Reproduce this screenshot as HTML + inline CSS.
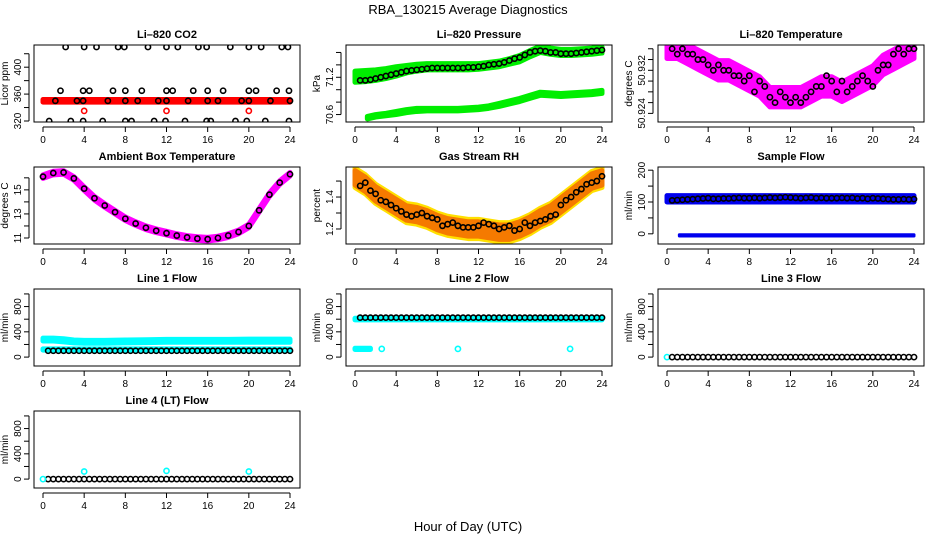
<!DOCTYPE html>
<html><head><meta charset="utf-8">
<style>
body{margin:0;background:#fff;}
svg text{font-family:"Liberation Sans",sans-serif;}
</style></head>
<body>
<svg id="chart" width="936" height="540" viewBox="0 0 936 540" xmlns="http://www.w3.org/2000/svg">
<rect width="936" height="540" fill="#fff"/>
<text x="468" y="14" text-anchor="middle" font-size="13">RBA_130215  Average Diagnostics</text>
<text x="468" y="531" text-anchor="middle" font-size="13">Hour of Day (UTC)</text>
</svg>
<script>
// ---------- data ----------
const xTicks = [0,4,8,12,16,20,24];
const HH = [0.5,1,1.5,2,2.5,3,3.5,4,4.5,5,5.5,6,6.5,7,7.5,8,8.5,9,9.5,10,10.5,11,11.5,12,12.5,13,13.5,14,14.5,15,15.5,16,16.5,17,17.5,18,18.5,19,19.5,20,20.5,21,21.5,22,22.5,23,23.5,24];
const HR = [0,1,2,3,4,5,6,7,8,9,10,11,12,13,14,15,16,17,18,19,20,21,22,23,24];

// CO2
const co2X430 = [2.2,4,5.2,7.3,7.9,10.2,12,13.1,15.1,15.9,18.2,20,21.2,23.2,23.8];
const co2X365 = [1.7,3.9,4.5,6.8,8,9.6,12,12.6,14.6,16,17.5,20,20.7,22.7,23.9];
const co2X350 = [1.2,3.3,3.9,6.3,8,9.2,11.2,12,14.1,16,17,19.3,20,22.1,24];
const co2X320 = [0.6,2.7,3.9,5.8,8,8.6,10.8,11.9,13.8,15.9,16.3,18.7,19.8,21.6,23.9];
const co2RedX = [4,12,20];
const co2RedY = [335,335,335];
const co2BandX = [0,24];
const co2BandLo = [348,348];
const co2BandHi = [352,352];

// Pressure
const presUpLo = [71.12,71.13,71.15,71.18,71.22,71.27,71.3,71.32,71.32,71.32,71.32,71.32,71.33,71.35,71.37,71.41,71.45,71.53,71.6,71.57,71.55,71.55,71.56,71.57,71.59];
const presUpHi = [71.3,71.31,71.32,71.34,71.37,71.39,71.41,71.42,71.42,71.42,71.42,71.42,71.42,71.44,71.46,71.5,71.55,71.63,71.7,71.67,71.65,71.65,71.66,71.67,71.69];
const presLowX = [1.2,2,3,4,5,6,7,8,9,10,11,12,13,14,15,16,17,18,19,20,21,22,23,24];
const presLowLo = [70.53,70.56,70.58,70.6,70.63,70.65,70.66,70.66,70.66,70.66,70.67,70.68,70.7,70.73,70.77,70.81,70.86,70.91,70.9,70.89,70.9,70.91,70.92,70.94];
const presLowHi = [70.57,70.6,70.62,70.65,70.68,70.7,70.7,70.7,70.7,70.7,70.71,70.72,70.74,70.78,70.82,70.86,70.91,70.96,70.95,70.94,70.95,70.96,70.97,70.99];
const presBlack = [71.15,71.15,71.16,71.18,71.2,71.22,71.24,71.26,71.28,71.3,71.31,71.32,71.33,71.34,71.35,71.35,71.35,71.35,71.35,71.35,71.35,71.36,71.36,71.37,71.38,71.4,71.41,71.42,71.44,71.47,71.5,71.52,71.56,71.6,71.62,71.63,71.62,71.6,71.6,71.58,71.58,71.58,71.59,71.6,71.61,71.62,71.63,71.64];

// Li-820 Temperature
const tempLo = [50.9342,50.9342,50.9332,50.9322,50.9312,50.9302,50.9302,50.9292,50.9282,50.9272,50.9252,50.9252,50.9252,50.9252,50.9262,50.9272,50.9272,50.9262,50.9272,50.9282,50.9292,50.9312,50.9322,50.9332,50.9342];
const tempHi = [50.9378,50.9378,50.9368,50.9358,50.9348,50.9338,50.9338,50.9328,50.9318,50.9308,50.9288,50.9288,50.9288,50.9288,50.9298,50.9308,50.9308,50.9298,50.9308,50.9318,50.9328,50.9348,50.9358,50.9368,50.9378];
const tempBlack = [50.936,50.935,50.936,50.935,50.935,50.934,50.934,50.933,50.932,50.933,50.932,50.932,50.931,50.931,50.930,50.931,50.928,50.930,50.929,50.927,50.926,50.928,50.927,50.926,50.927,50.926,50.927,50.928,50.929,50.929,50.931,50.930,50.928,50.930,50.928,50.929,50.930,50.931,50.930,50.929,50.932,50.933,50.933,50.935,50.936,50.935,50.936,50.936];

// Ambient box temperature
const ambVal = [16.1,16.4,16.45,15.95,15.1,14.3,13.7,13.15,12.6,12.2,11.85,11.6,11.4,11.2,11.05,10.95,10.9,11.0,11.2,11.5,12.0,13.3,14.6,15.6,16.3];

// Gas Stream RH
const rhVal = [1.52,1.48,1.42,1.38,1.34,1.3,1.29,1.27,1.24,1.22,1.21,1.2,1.2,1.19,1.18,1.18,1.2,1.23,1.27,1.3,1.35,1.4,1.45,1.5,1.52];
const rhBlack = [1.47,1.49,1.44,1.42,1.38,1.37,1.35,1.33,1.31,1.29,1.28,1.29,1.3,1.28,1.27,1.26,1.22,1.23,1.24,1.22,1.21,1.21,1.21,1.22,1.24,1.23,1.22,1.2,1.21,1.22,1.19,1.2,1.24,1.22,1.24,1.25,1.26,1.28,1.29,1.35,1.38,1.4,1.43,1.45,1.48,1.49,1.5,1.53];

// Sample flow
const sfBandX = [0,24];
const sfBandLo = [100,100];
const sfBandHi = [120,120];
const sfLowX = [1.2,24];
const sfLowLo = [-7,-7];
const sfLowHi = [-3,-3];
const sfBlack = [105,106,107,108,109,110,111,112,110,110,111,111,112,113,112,112,113,112,113,114,113,114,115,114,113,112,113,114,112,113,112,112,112,113,112,113,111,112,110,112,111,110,109,108,108,109,108,109];

// Line flows
const l1BandX = [0,1,2,3,4,6,8,10,12,14,16,18,20,22,24];
const l1BandLo = [255,255,240,225,220,220,225,230,235,235,235,235,235,235,235];
const l1BandHi = [300,300,290,270,265,265,270,275,280,280,280,280,285,285,285];
const l1LowX = [0,24];
const l1LowLo = [110,110];
const l1LowHi = [130,130];
const l1Black = [100,100,100,100,100,100,100,100,100,100,100,100,100,100,100,100,100,100,100,100,100,100,100,100,100,100,100,100,100,100,100,100,100,100,100,100,100,100,100,100,100,100,100,100,100,100,100,100];
const l2BandX = [0,24];
const l2BandLo = [590,590];
const l2BandHi = [615,615];
const l2LowX = [0,1.5];
const l2LowLo = [120,120];
const l2LowHi = [140,140];
const l2CyanX = [2.6,10,20.9];
const l2CyanY = [130,130,130];
const l2Black = [625,625,625,625,625,625,625,625,625,625,625,625,625,625,625,625,625,625,625,625,625,625,625,625,625,625,625,625,625,625,625,625,625,625,625,625,625,625,625,625,625,625,625,625,625,625,625,625];
const zeroFlow = [0,0,0,0,0,0,0,0,0,0,0,0,0,0,0,0,0,0,0,0,0,0,0,0,0,0,0,0,0,0,0,0,0,0,0,0,0,0,0,0,0,0,0,0,0,0,0,0];
const l3CyanX = [0];
const l3CyanY = [0];
const l4CyanX = [0,4,12,20];
const l4CyanY = [0,120,130,120];

// ---------- layout & drawing ----------
const svg = document.getElementById('chart');
const NS = 'http://www.w3.org/2000/svg';
function mk(tag, attrs, parent){const e=document.createElementNS(NS,tag);for(const k in attrs)e.setAttribute(k,attrs[k]);(parent||svg).appendChild(e);return e;}
const flowTicks=[0,200,400,600,800,1000], flowLabels=[0,400,800];
const panels = [
 {name:'li820-co2',col:0,row:0,title:'Li\u2013820 CO2',ylab:'Licor ppm',ymin:318.5,ymax:433,ticks:[320,340,360,380,400,420],labels:[320,360,400]},
 {name:'li820-pressure',col:1,row:0,title:'Li\u2013820 Pressure',ylab:'kPa',ymin:70.48,ymax:71.72,ticks:[70.6,70.8,71.0,71.2,71.4,71.6],labels:[70.6,71.2]},
 {name:'li820-temperature',col:2,row:0,title:'Li\u2013820 Temperature',ylab:'degrees C',ymin:50.9224,ymax:50.9367,ticks:[50.924,50.926,50.928,50.930,50.932,50.934,50.936],labels:[50.924,50.932]},
 {name:'ambient-box-temperature',col:0,row:1,title:'Ambient Box Temperature',ylab:'degrees C',ymin:10.5,ymax:16.9,ticks:[11,12,13,14,15,16],labels:[11,13,15]},
 {name:'gas-stream-rh',col:1,row:1,title:'Gas Stream RH',ylab:'percent',ymin:1.106,ymax:1.588,ticks:[1.2,1.3,1.4,1.5],labels:[1.2,1.4]},
 {name:'sample-flow',col:2,row:1,title:'Sample Flow',ylab:'ml/min',ymin:-32,ymax:210,ticks:[0,50,100,150,200],labels:[0,100,200]},
 {name:'line1-flow',col:0,row:2,title:'Line 1 Flow',ylab:'ml/min',ymin:-141,ymax:1078,ticks:flowTicks,labels:flowLabels},
 {name:'line2-flow',col:1,row:2,title:'Line 2 Flow',ylab:'ml/min',ymin:-141,ymax:1078,ticks:flowTicks,labels:flowLabels},
 {name:'line3-flow',col:2,row:2,title:'Line 3 Flow',ylab:'ml/min',ymin:-141,ymax:1078,ticks:flowTicks,labels:flowLabels},
 {name:'line4-flow',col:0,row:3,title:'Line 4 (LT) Flow',ylab:'ml/min',ymin:-141,ymax:1078,ticks:flowTicks,labels:flowLabels}
];
const MAG='#ff00ff', GRN='#00ee00', CY='#00ffff', BLU='#0000ee';

function drawPanel(p, idx){
  const x0=34+312*p.col, x1=x0+266, y0=45+122*p.row, y1=y0+77;
  const xs=v=>x0+9+v/24*247;
  const ys=v=>y1-(v-p.ymin)/(p.ymax-p.ymin)*77;
  const g=mk('g',{});
  
  
  const cid='clip'+idx;
  const cp=mk('clipPath',{id:cid},g); mk('rect',{x:x0,y:y0,width:266,height:77},cp);
  const plot=mk('g',{'clip-path':'url(#'+cid+')'},g);
  
  

  function band(X,lo,hi,color,nm,sw){
    let d='M'+X.map((x,i)=>xs(x)+','+ys(hi[i])).join(' L');
    d+=' L'+X.map((x,i)=>xs(x)+','+ys(lo[i])).reverse().join(' L')+' Z';
    const e=mk('path',{d:d,fill:color,stroke:color,'stroke-width':(sw==null?5:sw),'stroke-linejoin':'round'},plot);
    
    
  }
  function pts(X,Y,color,nm,filled){
    X.forEach((x,i)=>{
      const c=mk('circle',{cx:xs(x),cy:ys(Y[i]),r:2.6,fill:filled?color:'none',stroke:color,'stroke-width':1.6},plot);
      
      
    });
  }
  const k=p.name;
  if(k==='li820-co2'){
    band(co2BandX,co2BandLo,co2BandHi,'#ff0000','co2-raw-band');
    pts(co2X430,co2X430.map(()=>430),'#000','co2-mean-point');
    pts(co2X365,co2X365.map(()=>365),'#000','co2-mean-point');
    pts(co2X350,co2X350.map(()=>350),'#000','co2-mean-point');
    pts(co2X320,co2X320.map(()=>320),'#000','co2-mean-point');
    pts(co2RedX,co2RedY,'#ff0000','co2-red-point');
  } else if(k==='li820-pressure'){
    band(HR,presUpLo,presUpHi,GRN,'pressure-upper-band');
    band(presLowX,presLowLo,presLowHi,GRN,'pressure-lower-band');
    pts(HH,presBlack,'#000','pressure-mean-point');
  } else if(k==='li820-temperature'){
    band(HR,tempLo,tempHi,MAG,'temperature-band');
    pts(HH,tempBlack,'#000','temperature-mean-point');
  } else if(k==='ambient-box-temperature'){
    band(HR,ambVal.map(v=>v-0.15),ambVal.map(v=>v+0.15),MAG,'ambient-band');
    pts(HR,ambVal,'#000','ambient-mean-point');
  } else if(k==='gas-stream-rh'){
    band(HR,rhVal.map(v=>v-0.06),rhVal.map(v=>v+0.06),'#ffe000','rh-outer-band');
    band(HR,rhVal.map(v=>v-0.045),rhVal.map(v=>v+0.045),'#f57a00','rh-inner-band');
    pts(HH,rhBlack,'#000','rh-mean-point');
  } else if(k==='sample-flow'){
    band(sfBandX,sfBandLo,sfBandHi,BLU,'sample-flow-band');
    band(sfLowX,sfLowLo,sfLowHi,BLU,'sample-flow-low-band',3);
    pts(HH,sfBlack,'#000','sample-flow-mean-point');
  } else if(k==='line1-flow'){
    band(l1BandX,l1BandLo,l1BandHi,CY,'line1-upper-band');
    band(l1LowX,l1LowLo,l1LowHi,CY,'line1-lower-band');
    pts(HH,l1Black,'#000','line1-mean-point');
  } else if(k==='line2-flow'){
    band(l2BandX,l2BandLo,l2BandHi,CY,'line2-band');
    band(l2LowX,l2LowLo,l2LowHi,CY,'line2-low-band');
    pts(l2CyanX,l2CyanY,CY,'line2-cyan-point');
    pts(HH,l2Black,'#000','line2-mean-point');
  } else if(k==='line3-flow'){
    pts(l3CyanX,l3CyanY,CY,'line3-cyan-point');
    pts(HH,zeroFlow,'#000','line3-mean-point');
  } else if(k==='line4-flow'){
    pts(HH,zeroFlow,'#000','line4-mean-point');
    pts(l4CyanX,l4CyanY,CY,'line4-cyan-point');
  }
  const b=mk('rect',{x:x0,y:y0,width:266,height:77,fill:'none',stroke:'#000','stroke-width':1},g);
  
  
  const t=mk('text',{x:(x0+x1)/2,y:y0-7,'text-anchor':'middle','font-size':11,'font-weight':'bold'},g);
  t.textContent=p.title;
  
  
  mk('line',{x1:xs(0),x2:xs(24),y1:y1+5,y2:y1+5,stroke:'#000'},g);
  xTicks.forEach(v=>{
    mk('line',{x1:xs(v),x2:xs(v),y1:y1+5,y2:y1+10,stroke:'#000'},g);
    const l=mk('text',{x:xs(v),y:y1+21,'text-anchor':'middle','font-size':10},g);
    l.textContent=v;
    
    
  });
  mk('line',{x1:x0-5,x2:x0-5,y1:ys(p.ticks[0]),y2:ys(p.ticks[p.ticks.length-1]),stroke:'#000'},g);
  p.ticks.forEach(v=>mk('line',{x1:x0-10,x2:x0-5,y1:ys(v),y2:ys(v),stroke:'#000'},g));
  p.labels.forEach(v=>{
    const l=mk('text',{x:x0-13,y:ys(v),'text-anchor':'middle','font-size':10,transform:'rotate(-90 '+(x0-13)+' '+ys(v)+')'},g);
    l.textContent=v;
    
    
  });
  const yl=mk('text',{x:x0-26,y:(y0+y1)/2,'text-anchor':'middle','font-size':10,transform:'rotate(-90 '+(x0-26)+' '+((y0+y1)/2)+')'},g);
  yl.textContent=p.ylab;
  
  
}
panels.forEach(drawPanel);
</script>
</body></html>
